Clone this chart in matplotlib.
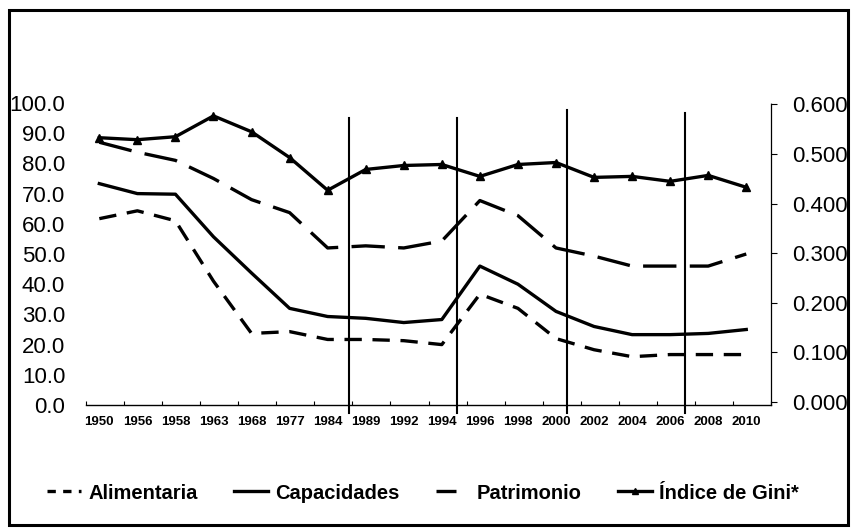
import matplotlib
matplotlib.use('Agg')
import matplotlib.pyplot as plt
from matplotlib.patches import Rectangle
from matplotlib.lines import Line2D

plt.rcParams['font.family'] = ['Liberation Sans', 'DejaVu Sans']

# data
years = ['1950', '1956', '1958', '1963', '1968', '1977', '1984', '1989', '1992',
         '1994', '1996', '1998', '2000', '2002', '2004', '2006', '2008', '2010']
alimentaria = [61.7, 64.3, 61.0, 41.0, 23.7, 24.3, 21.7, 21.7, 21.3,
               20.0, 36.7, 32.0, 22.0, 18.3, 16.0, 16.7, 16.7, 16.7]
capacidades = [73.3, 70.0, 69.8, 55.7, 43.7, 32.0, 29.3, 28.7, 27.3,
               28.3, 46.0, 40.0, 31.0, 26.0, 23.3, 23.3, 23.7, 25.0]
patrimonio = [87.0, 83.7, 81.0, 75.0, 68.0, 63.7, 52.0, 52.7, 52.0,
              54.3, 67.7, 62.7, 52.0, 49.3, 46.0, 46.0, 46.0, 50.0]
gini = [0.533, 0.529, 0.535, 0.577, 0.545, 0.493, 0.427, 0.469, 0.477,
        0.479, 0.455, 0.479, 0.483, 0.453, 0.455, 0.445, 0.457, 0.433]
# vertical separators (category index units)
separators = [6.57, 9.4, 12.3, 15.4]
sep_tops = [95.0, 95.0, 97.7, 96.7]

x = list(range(len(years)))

fig = plt.figure(figsize=(8.51, 5.29), dpi=100)
ax = fig.add_axes([86 / 851, 1 - 405 / 529, (771 - 86) / 851, (405 - 103) / 529])
ax2 = ax.twinx()

lw = 2.4
ax.plot(x, alimentaria, color='black', lw=lw, dashes=(5.2, 3.2), label='Alimentaria')
ax.plot(x, capacidades, color='black', lw=lw, label='Capacidades')
ax.plot(x, patrimonio, color='black', lw=lw, dashes=(10, 4), label='Patrimonio')
ax2.plot(x, gini, color='black', lw=lw, marker='^', markersize=6, label='Índice de Gini*')

for xs, top in zip(separators, sep_tops):
    ax.plot([xs, xs], [-2.7, top], color='black', lw=1.5, clip_on=False)

ax.set_xlim(-0.34, 17.52)
ax.set_ylim(0, 100)
ax2.set_ylim(-0.006, 0.603)

ax.set_yticks(range(0, 101, 10))
ax.set_yticklabels([f'{v:.1f}' for v in range(0, 101, 10)], fontsize=16)
ax.tick_params(axis='y', length=0, pad=15)
ax2.set_yticks([0.0, 0.1, 0.2, 0.3, 0.4, 0.5, 0.6])
ax2.set_yticklabels([f'{v:.3f}' for v in [0.0, 0.1, 0.2, 0.3, 0.4, 0.5, 0.6]], fontsize=16)
ax2.tick_params(axis='y', length=4, width=0.8, pad=11)

ax.set_xticks(x)
ax.set_xticklabels(years, fontsize=9.5, fontweight='bold')
ax.tick_params(axis='x', length=0, pad=8)
ax.set_xticks([i + 0.65 for i in range(-1, 18)], minor=True)
ax.tick_params(axis='x', which='minor', direction='in', length=3, width=0.8)

for a in (ax, ax2):
    a.spines['top'].set_visible(False)
    a.spines['left'].set_visible(False)
    a.spines['right'].set_visible(False)
ax.spines['bottom'].set_linewidth(1.0)
ax2.spines['bottom'].set_visible(False)
ax2.spines['right'].set_visible(True)
ax2.spines['right'].set_linestyle((0, (1, 1)))
ax2.spines['right'].set_linewidth(0.9)

handles = [
    Line2D([], [], color='black', lw=lw, dashes=(2.5, 2.2)),
    Line2D([], [], color='black', lw=lw),
    Line2D([], [], color='black', lw=lw, dashes=(6, 6)),
    Line2D([], [], color='black', lw=lw, marker='^', markersize=5),
]
labels = ['Alimentaria', 'Capacidades', 'Patrimonio', 'Índice de Gini*']
fig.legend(handles, labels, loc='center', bbox_to_anchor=(0.497, 0.068), ncol=4,
           frameon=False, prop={'size': 14.5, 'weight': 'bold'},
           handlelength=1.7, handletextpad=0.35, columnspacing=1.8)

# outer frame
fig.patches.append(Rectangle((9 / 851, 4 / 529), (848 - 9) / 851, (519 - 4) / 529,
                             transform=fig.transFigure, fill=False, lw=2.2,
                             edgecolor='black'))

fig.savefig('out.png', dpi=100)
